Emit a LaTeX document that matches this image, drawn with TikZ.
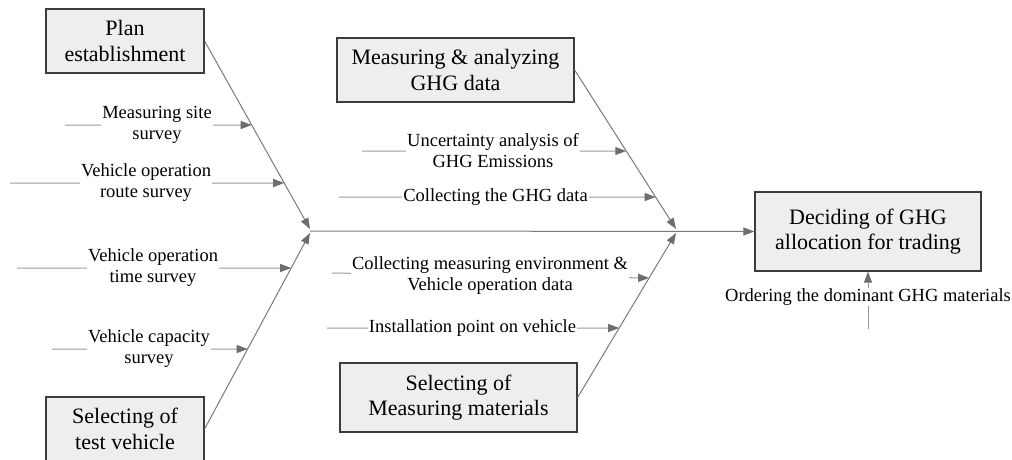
\documentclass[tikz,border=0pt]{standalone}
\usepackage{fontspec}
\setmainfont{Liberation Serif}
\usetikzlibrary{arrows.meta}
\definecolor{boxfill}{HTML}{EEEEEE}
\definecolor{boxline}{HTML}{3C3C3C}
\definecolor{boneline}{HTML}{7A7A7A}
\definecolor{subline}{HTML}{9A9A9A}
\definecolor{tipcol}{HTML}{6E6E6E}
\tikzset{
  cause/.style={draw=boxline, fill=boxfill, line width=1.2pt, align=center,
    inner sep=0pt, font=\fontsize{22}{25.5}\selectfont},
  bone/.style={draw=boneline, line width=1pt,
    -{Triangle[length=11pt,width=8pt,color=tipcol]}},
  subbone/.style={draw=subline, line width=1pt,
    -{Triangle[length=11pt,width=8pt,color=tipcol]}},
  plainbone/.style={draw=subline, line width=1pt},
  sublabel/.style={fill=white, inner xsep=1pt, inner ysep=0pt, align=center,
    font=\fontsize{18.5}{21}\selectfont},
}
\begin{document}
\begin{tikzpicture}[x=1pt,y=-1pt]
\useasboundingbox (0,0) rectangle (1012,460);

% category boxes
\node[cause, minimum width=158pt, minimum height=64pt] (pe) at (125,41) {Plan\\establishment};
\node[cause, minimum width=158pt, minimum height=64pt] (tv) at (125,429) {Selecting of\\test vehicle};
\node[cause, minimum width=237pt, minimum height=64pt] (ma) at (455.5,70) {Measuring \& analyzing\\GHG data};
\node[cause, minimum width=237pt, minimum height=69pt] (mm) at (458.5,397.5) {Selecting of\\Measuring materials};
\node[cause, minimum width=226pt, minimum height=79pt] (dg) at (868,231.5) {Deciding of GHG\\allocation for trading};

% junctions on the spine
\coordinate (j1) at (310,231);
\coordinate (j1u) at (310,229);
\coordinate (j1d) at (310,233);
\coordinate (j2u) at (676,229);
\coordinate (j2d) at (676,233);

% main bones
\draw[bone] (pe.east) -- (j1u);
\draw[bone] (tv.east) -- (j1d);
\draw[bone] (ma.east) -- (j2u);
\draw[bone] (mm.east) -- (j2d);
\draw[bone] (j1) -- (dg.west);

% free ends of the sub-bones
\coordinate (s1) at (65,125);
\coordinate (s2) at (10,183);
\coordinate (s3) at (17,268);
\coordinate (s4) at (52,349);
\coordinate (s5) at (362,151);
\coordinate (s6) at (339,197);
\coordinate (s7) at (332,273);
\coordinate (s8) at (327,328);
\coordinate (s9) at (868,329);

% where the sub-bones meet the main bones
\coordinate (t1) at (intersection cs: first line={(0,125)--(100,125)}, second line={(pe.east)--(j1u)});
\coordinate (t2) at (intersection cs: first line={(0,183)--(100,183)}, second line={(pe.east)--(j1u)});
\coordinate (t3) at (intersection cs: first line={(0,268)--(100,268)}, second line={(tv.east)--(j1d)});
\coordinate (t4) at (intersection cs: first line={(0,349)--(100,349)}, second line={(tv.east)--(j1d)});
\coordinate (t5) at (intersection cs: first line={(0,151)--(100,151)}, second line={(ma.east)--(j2u)});
\coordinate (t6) at (intersection cs: first line={(0,197)--(100,197)}, second line={(ma.east)--(j2u)});
\coordinate (t7) at (intersection cs: first line={(0,278)--(100,278)}, second line={(mm.east)--(j2d)});
\coordinate (t8) at (intersection cs: first line={(0,328)--(100,328)}, second line={(mm.east)--(j2d)});

% sub-bones
\draw[subbone] (s1) -- (t1);
\draw[subbone] (s2) -- (t2);
\draw[subbone] (s3) -- (t3);
\draw[subbone] (s4) -- (t4);
\draw[subbone] (s5) -- (t5);
\draw[subbone] (s6) -- (t6);
\draw[subbone] (s7) -- (t7);
\draw[subbone] (s8) -- (t8);

% sub-bone labels
\node[sublabel] (l1) at (157,125) {Measuring site\\survey};
\node[sublabel] (l2) at (146,183) {Vehicle operation\\route survey};
\node[sublabel] (l3) at (153,268) {Vehicle operation\\time survey};
\node[sublabel] (l4) at (149,349) {Vehicle capacity\\survey};
\node[sublabel] (l5) at (493,151) {Uncertainty analysis of\\GHG Emissions};
\node[sublabel] (l6) at (495.5,197) {Collecting the GHG data};
\node[sublabel] (l7) at (490,276) {Collecting measuring environment \&\\Vehicle operation data};
\node[sublabel] (l8) at (472.5,328) {Installation point on vehicle};
\node[sublabel] (l9) at (868,297) {Ordering the dominant GHG materials};

% ranking input below the result box
\draw[plainbone] (s9) -- (l9.south);
\draw[subbone] (l9.north) -- (dg.south);
\end{tikzpicture}
\end{document}
